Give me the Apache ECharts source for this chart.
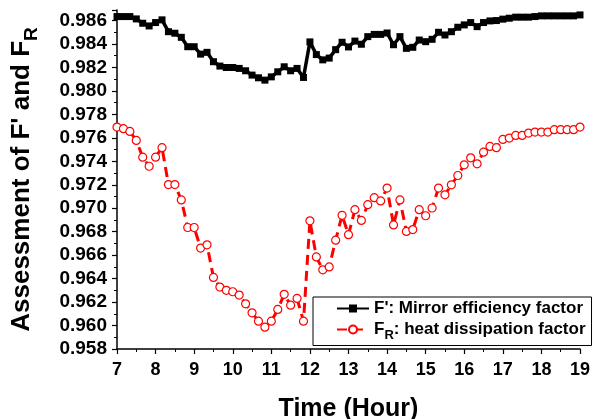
<!DOCTYPE html>
<html>
<head>
<meta charset="utf-8">
<script src="https://cdn.jsdelivr.net/npm/echarts@6/dist/echarts.min.js"></script>
<style>
  html, body { margin: 0; padding: 0; background: #fff; }
  #chart { width: 595px; height: 419px; }
</style>
</head>
<body>
<div id="chart"></div>
<script>
// Time axis: minutes after 7:00, one sample every 10 min
var minutes = [
    0, 10, 20, 30, 40, 50, 60, 70, 80, 90,
    100, 110, 120, 130, 140, 150, 160, 170, 180, 190,
    200, 210, 220, 230, 240, 250, 260, 270, 280, 290,
    300, 310, 320, 330, 340, 350, 360, 370, 380, 390,
    400, 410, 420, 430, 440, 450, 460, 470, 480, 490,
    500, 510, 520, 530, 540, 550, 560, 570, 580, 590,
    600, 610, 620, 630, 640, 650, 660, 670, 680, 690,
    700, 710, 720
];

// F': mirror efficiency factor
var mirrorFactor = [
    0.98634, 0.98634, 0.98634, 0.98614, 0.98577, 0.98554, 0.98583, 0.98606, 0.98505, 0.98492,
    0.98457, 0.98377, 0.98377, 0.98314, 0.98329, 0.98249, 0.98212, 0.98200, 0.98200, 0.98192,
    0.98172, 0.98135, 0.98112, 0.98092, 0.98120, 0.98163, 0.98206, 0.98172, 0.98192, 0.98115,
    0.98418, 0.98310, 0.98265, 0.98280, 0.98352, 0.98415, 0.98375, 0.98425, 0.98398, 0.98463,
    0.98482, 0.98482, 0.98494, 0.98394, 0.98463, 0.98363, 0.98372, 0.98434, 0.98420, 0.98440,
    0.98500, 0.98477, 0.98505, 0.98543, 0.98563, 0.98583, 0.98548, 0.98583, 0.98597, 0.98600,
    0.98612, 0.98620, 0.98629, 0.98629, 0.98629, 0.98634, 0.98640, 0.98640, 0.98640, 0.98640,
    0.98640, 0.98640, 0.98648
];

// FR: heat dissipation factor
var heatFactor = [
    0.97692, 0.97678, 0.97655, 0.97578, 0.97435, 0.97358, 0.97435, 0.97516, 0.97202, 0.97202,
    0.97071, 0.96836, 0.96836, 0.96660, 0.96688, 0.96410, 0.96328, 0.96300, 0.96288, 0.96260,
    0.96185, 0.96108, 0.96037, 0.95986, 0.96037, 0.96137, 0.96266, 0.96174, 0.96231, 0.96037,
    0.96893, 0.96585, 0.96475, 0.96500, 0.96728, 0.96940, 0.96775, 0.96988, 0.96896, 0.97030,
    0.97090, 0.97062, 0.97172, 0.96858, 0.97071, 0.96802, 0.96818, 0.96988, 0.96936, 0.97002,
    0.97172, 0.97114, 0.97200, 0.97279, 0.97370, 0.97430, 0.97379, 0.97478, 0.97527, 0.97516,
    0.97587, 0.97598, 0.97621, 0.97621, 0.97641, 0.97649, 0.97649, 0.97649, 0.97670, 0.97670,
    0.97670, 0.97670, 0.97692
];

var nameMirror = "F': Mirror efficiency factor";
var nameHeat = "FR: heat dissipation factor";

var fontFamily = '"Liberation Sans", Arial, sans-serif';

var toPairs = function (values) {
    return values.map(function (v, i) { return [7 + minutes[i] / 60, v]; });
};

var chart = echarts.init(document.getElementById('chart'), null, { renderer: 'canvas' });

chart.setOption({
    animation: false,
    backgroundColor: '#fff',
    grid: { left: 117, right: 15, top: 10, bottom: 70, containLabel: false, outerBoundsMode: 'none' },
    legend: {
        orient: 'vertical',
        left: 313,
        top: 297,
        padding: [3, 6, 4, 23],
        borderColor: '#000',
        borderWidth: 1,
        itemWidth: 32,
        itemHeight: 10,
        itemGap: 4,
        data: [nameMirror, nameHeat],
        formatter: function (name) {
            return name === nameHeat ? 'F{sub|R}: heat dissipation factor' : name;
        },
        textStyle: {
            color: '#000',
            fontSize: 17,
            fontWeight: 'bold',
            fontFamily: fontFamily,
            rich: {
                sub: { fontSize: 13, fontWeight: 'bold', fontFamily: fontFamily, color: '#000', verticalAlign: 'bottom', lineHeight: 24 }
            }
        }
    },
    xAxis: {
        type: 'value',
        min: 7,
        max: 19,
        interval: 1,
        name: 'Time (Hour)',
        nameLocation: 'middle',
        nameGap: 48,
        nameTextStyle: { color: '#000', fontSize: 25, fontWeight: 'bold', fontFamily: fontFamily },
        axisLine: { show: true, lineStyle: { color: '#000', width: 1.5 } },
        axisTick: { show: true, inside: false, length: 5, lineStyle: { color: '#000', width: 1.2 } },
        minorTick: { show: true, splitNumber: 2, length: 3, lineStyle: { color: '#000', width: 1 } },
        splitLine: { show: false },
        axisLabel: { color: '#000', fontSize: 18, fontWeight: 'bold', fontFamily: fontFamily, margin: 12 }
    },
    yAxis: {
        type: 'value',
        min: 0.958,
        max: 0.9869,
        interval: 0.002,
        name: "Assessment of F' and F{sub|R}",
        nameLocation: 'middle',
        nameRotate: 90,
        nameGap: 76,
        nameTextStyle: {
            color: '#000', fontSize: 26, fontWeight: 'bold', fontFamily: fontFamily,
            rich: {
                sub: { fontSize: 19, fontWeight: 'bold', fontFamily: fontFamily, color: '#000', verticalAlign: 'bottom', lineHeight: 38 }
            }
        },
        axisLine: { show: true, lineStyle: { color: '#000', width: 1.5 } },
        axisTick: { show: true, inside: false, length: 5, lineStyle: { color: '#000', width: 1.2 } },
        minorTick: { show: true, splitNumber: 2, length: 3, lineStyle: { color: '#000', width: 1 } },
        splitLine: { show: false },
        axisLabel: {
            color: '#000', fontSize: 19, fontWeight: 'bold', fontFamily: fontFamily, margin: 10,
            formatter: function (value) {
                var k = value / 0.002;
                return Math.abs(k - Math.round(k)) < 1e-6 ? value.toFixed(3) : '';
            }
        }
    },
    series: [
        {
            name: nameMirror,
            type: 'line',
            data: toPairs(mirrorFactor),
            clip: false,
            symbol: 'rect',
            symbolSize: 7,
            itemStyle: { color: '#000', borderColor: '#000', borderWidth: 0 },
            lineStyle: { color: '#000', width: 3.5 },
            z: 3
        },
        {
            name: nameHeat,
            type: 'line',
            data: toPairs(heatFactor),
            clip: false,
            symbol: 'circle',
            symbolSize: 8,
            itemStyle: { color: '#fff', borderColor: '#ff0000', borderWidth: 1.2 },
            lineStyle: { color: '#ff0000', width: 3, type: [10, 6] },
            z: 2
        }
    ]
});
</script>
</body>
</html>
